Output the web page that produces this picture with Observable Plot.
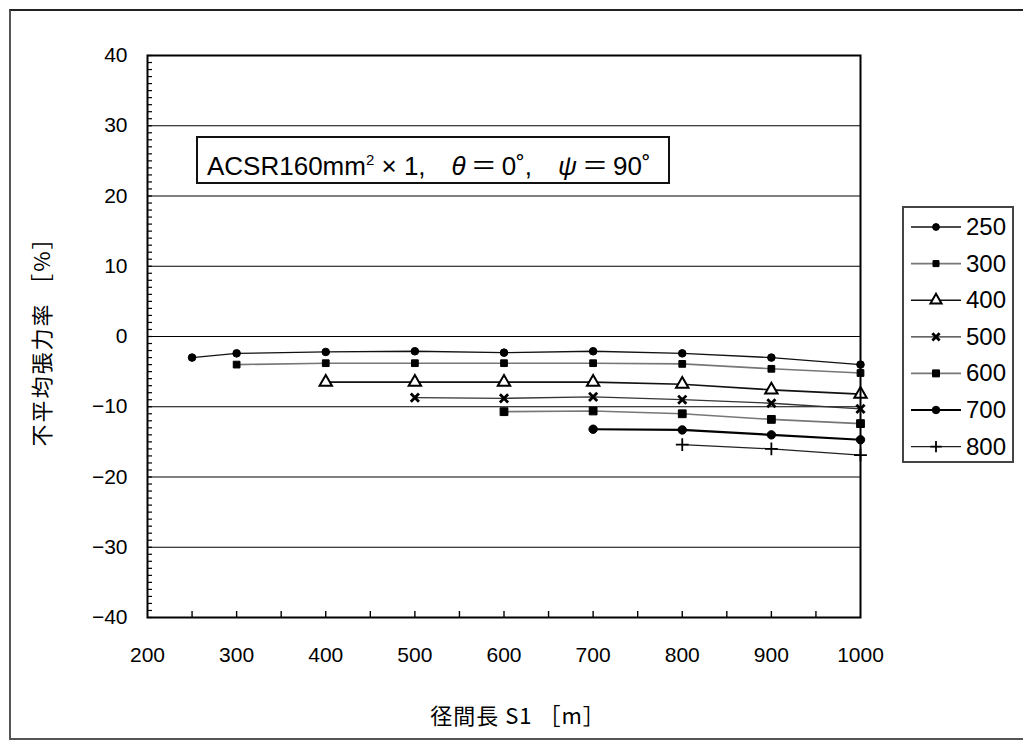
<!DOCTYPE html>
<html><head><meta charset="utf-8">
<script src="https://cdn.jsdelivr.net/npm/d3@7"></script>
<script src="https://cdn.jsdelivr.net/npm/@observablehq/plot@0.6"></script>
<style>
body{margin:0;background:#fff;}
#wrap{position:relative;width:1023px;height:740px;overflow:hidden;font-family:"Liberation Sans","Noto Sans CJK JP",sans-serif;}
#outer{position:absolute;left:9px;top:9px;width:1030px;height:727px;border-left:2px solid #555;border-top:2px solid #222;border-bottom:2px solid #555;}
#chart{position:absolute;left:0;top:0;}
#note{position:absolute;left:196px;top:136px;width:474px;height:48px;border:2px solid #111;background:#fff;font-size:26px;line-height:44px;box-sizing:border-box;padding-left:9px;white-space:nowrap;color:#000;}
#note .eq{display:inline-block;width:36px;text-align:center;}
#legend{position:absolute;left:902px;top:206px;width:112px;height:257px;border:2px solid #444;box-sizing:border-box;background:#fff;}
#xlabel{position:absolute;left:368px;top:698px;width:300px;text-align:center;font-size:22px;letter-spacing:1px;font-family:"Noto Sans CJK JP",sans-serif;color:#000;}
#ylabel{position:absolute;left:-110px;top:320px;width:300px;text-align:center;font-size:22px;letter-spacing:2px;font-family:"Noto Sans CJK JP",sans-serif;transform:rotate(-90deg);color:#000;}
</style></head>
<body><div id="wrap"><div id="outer"></div><div id="chart"></div>
<div id="note">ACSR160mm<sup style="font-size:15px">2</sup> × 1,&ensp;&ensp;<i>θ</i><span class="eq">＝</span>0˚,&ensp;&ensp;<i>ψ</i><span class="eq">＝</span>90˚</div>
<div id="legend"></div>
<div id="xlabel">径間長 S1 ［m］</div>
<div id="ylabel">不平均張力率 ［%］</div>
</div>
<script>
// Span lengths (x) and series
const spans = [250, 300, 400, 500, 600, 700, 800, 900, 1000];
const seriesNames = ["250", "300", "400", "500", "600", "700", "800"];
const s250 = [-3.0, -2.4, -2.2, -2.1, -2.3, -2.1, -2.4, -3.0, -4.0];
const s300 = [null, -4.0, -3.8, -3.8, -3.8, -3.8, -3.9, -4.6, -5.2];
const s400 = [null, null, -6.5, -6.5, -6.5, -6.5, -6.8, -7.6, -8.2];
const s500 = [null, null, null, -8.7, -8.8, -8.6, -9.0, -9.5, -10.3];
const s600 = [null, null, null, null, -10.7, -10.6, -11.0, -11.8, -12.4];
const s700 = [null, null, null, null, null, -13.2, -13.3, -14.0, -14.7];
const s800 = [null, null, null, null, null, null, -15.4, -16.0, -16.9];
const yTicks = [-40, -30, -20, -10, 0, 10, 20, 30, 40];
const xTicks = [200, 300, 400, 500, 600, 700, 800, 900, 1000];

const allSeries = [s250, s300, s400, s500, s600, s700, s800];
const styles = [
  {line:"#111", lw:1.3, symbol:"circle", r:3.8, fill:"#000", stroke:"#000"},
  {line:"#777", lw:1.6, symbol:"square", r:3.8, fill:"#000", stroke:"#000"},
  {line:"#111", lw:1.6, symbol:"triangle", r:4.6, fill:"#fff", stroke:"#000", sw:2},
  {line:"#333", lw:1.3, symbol:"times", r:3.8, fill:"none", stroke:"#000", sw:2.8},
  {line:"#777", lw:1.6, symbol:"square", r:4.4, fill:"#000", stroke:"#000"},
  {line:"#000", lw:2.2, symbol:"circle", r:4.2, fill:"#000", stroke:"#000"},
  {line:"#222", lw:1.3, symbol:"plus", r:4.2, fill:"none", stroke:"#000", sw:1.8}
];
const rows = [];
allSeries.forEach((s, i) => s.forEach((v, j) => { if (v !== null) rows.push({series: seriesNames[i], x: spans[j], y: v}); }));

const marks = [
  Plot.gridY(yTicks.filter(d => d > -40 && d < 40), {stroke:"#000", strokeOpacity:1, strokeWidth:1.2}),
  Plot.axisY(d3.range(-40, 41, 1), {tickSize:-5, tickFormat:() => "", strokeWidth:1.2, label:null}),
  Plot.axisY(yTicks, {tickSize:0, tickPadding:20, fontSize:21, label:null, fill:"#000"}),
  Plot.axisX(d3.range(250, 1000, 50), {tickSize:-6, tickFormat:() => "", strokeWidth:1.4, label:null}),
  Plot.axisX(xTicks, {tickSize:0, tickPadding:30, fontSize:21, label:null, tickFormat:d => String(d), fill:"#000"}),
];
seriesNames.forEach((name, i) => {
  const st = styles[i];
  const data = rows.filter(d => d.series === name);
  marks.push(Plot.line(data, {x:"x", y:"y", stroke:st.line, strokeWidth:st.lw}));
});
seriesNames.forEach((name, i) => {
  const st = styles[i];
  const data = rows.filter(d => d.series === name);
  marks.push(Plot.dot(data, {x:"x", y:"y", symbol:() => st.symbol, r:st.r, fill:st.fill, stroke:st.stroke, strokeWidth:st.sw || 1}));
});
marks.push(Plot.frame({stroke:"#000", strokeWidth:2}));

const chart = Plot.plot({
  width:1023, height:740,
  marginLeft:147, marginRight:163, marginTop:55, marginBottom:123,
  x:{domain:[200, 1000]},
  y:{domain:[-40, 40]},
  style:{fontFamily:"Liberation Sans, sans-serif", color:"#000", background:"transparent"},
  marks
});
document.getElementById("chart").appendChild(chart);

// Legend
const lg = d3.select("#legend").append("svg").attr("width", 108).attr("height", 253);
seriesNames.forEach((name, i) => {
  const st = styles[i];
  const cy = 19 + i * 36.6;
  const g = lg.append("g").attr("transform", `translate(0,${cy})`);
  g.append("line").attr("x1", 7).attr("x2", 57).attr("y1", 0).attr("y2", 0).attr("stroke", st.line).attr("stroke-width", st.lw);
  const sym = {circle:d3.symbolCircle, square:d3.symbolSquare, triangle:d3.symbolTriangle, times:d3.symbolTimes, plus:d3.symbolPlus}[st.symbol];
  const sz = Math.PI * st.r * st.r * 0.8;
  g.append("path").attr("d", d3.symbol(sym, sz)()).attr("transform", "translate(32,0)")
    .attr("fill", st.fill).attr("stroke", st.stroke).attr("stroke-width", st.sw || 1);
  g.append("text").attr("x", 62).attr("y", 8).attr("font-size", 24).attr("font-family", "Liberation Sans, sans-serif").attr("fill", "#000").text(name);
});
</script></body></html>
